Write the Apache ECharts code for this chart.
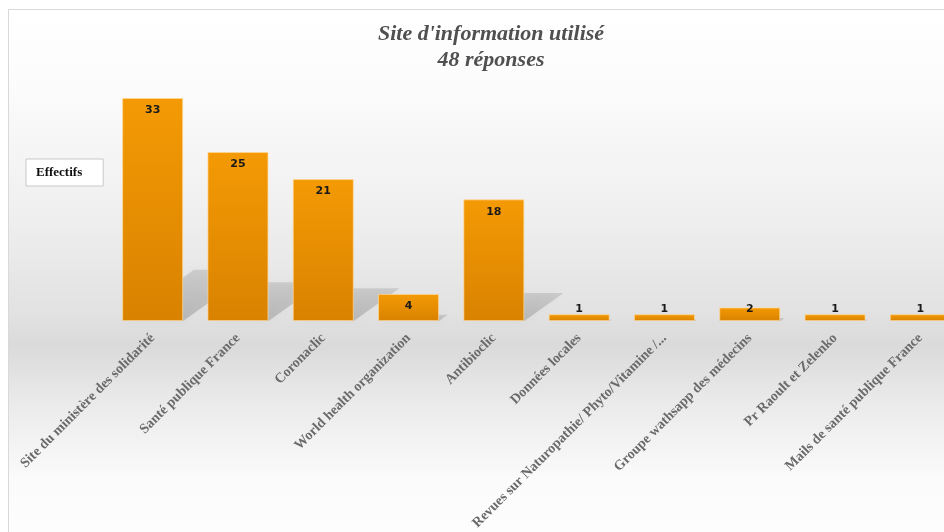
<html>
<head>
    <meta charset="utf-8">
    <title>Site d'information utilisé</title>
    <script src="https://cdn.jsdelivr.net/npm/echarts@6/dist/echarts.min.js"></script>
</head>
<body style="margin:0">
<div id="chart" style="width: 944px; height: 532px"></div>
<script>
    // catégories et effectifs
    var categories = [
        'Site du ministère des solidarité',
        'Santé publique France',
        'Coronaclic',
        'World health organization',
        'Antibioclic',
        'Données locales',
        'Revues sur Naturopathie/ Phyto/Vitamine /...',
        'Groupe wathsapp des médecins',
        'Pr Raoult et Zelenko',
        'Mails de santé publique France'
    ];
    var effectifs = [33, 25, 21, 4, 18, 1, 1, 2, 1, 1];
    var seriesName = 'Effectifs';

    // étiquettes : dans la barre pour les grandes valeurs, au-dessus pour les petites
    var barData = effectifs.map(function (v) {
        var lab = v >= 4 ? { position: 'insideTop', distance: 7 }
                : v >= 2 ? { position: 'top', distance: -7 }
                : { position: 'top', distance: 0 };
        return { value: v, label: lab };
    });

    // ombre portée en perspective derrière chaque barre
    function renderShadow(params, api) {
        var base = api.coord([api.value(0), 0]);
        var top = api.coord([api.value(0), api.value(1)]);
        var half = 30.5;
        var h = base[1] - top[1];
        var dy = h * 0.23, dx = dy * 1.4;
        var x0 = base[0] - half, x1 = base[0] + half, y0 = base[1];
        return {
            type: 'polygon',
            shape: { points: [[x0, y0], [x1, y0], [x1 + dx, y0 - dy], [x0 + dx, y0 - dy]] },
            style: {
                fill: {
                    type: 'linear', x: 0, y: 1, x2: 0, y2: 0,
                    colorStops: [
                        { offset: 0, color: 'rgba(0,0,0,0.17)' },
                        { offset: 1, color: 'rgba(0,0,0,0.11)' }
                    ]
                },
                shadowBlur: 10,
                shadowColor: 'rgba(0,0,0,0.18)'
            }
        };
    }

    var chart = echarts.init(document.getElementById('chart'));
    var option = {
        animation: false,
        graphic: {
            elements: [{
                type: 'rect',
                z: -100,
                shape: { x: 8.5, y: 9.5, width: 980, height: 560 },
                style: {
                    stroke: '#d9d9d9',
                    lineWidth: 1,
                    fill: {
                        type: 'linear', x: 0, y: 0, x2: 0, y2: 1,
                        colorStops: [
                            { offset: 0, color: '#ffffff' },
                            { offset: 0.13, color: '#fcfcfc' },
                            { offset: 0.35, color: '#f0f0f0' },
                            { offset: 0.54, color: '#e2e2e2' },
                            { offset: 0.6, color: '#dadada' },
                            { offset: 0.7, color: '#eaeaea' },
                            { offset: 0.84, color: '#fbfbfb' },
                            { offset: 1, color: '#ffffff' }
                        ]
                    }
                }
            }]
        },
        title: {
            text: "Site d'information utilisé\n48 réponses",
            left: 486,
            top: 16,
            textAlign: 'center',
            textStyle: {
                fontFamily: 'Liberation Serif',
                fontStyle: 'italic',
                fontWeight: 'bold',
                fontSize: 22,
                lineHeight: 26,
                color: '#505050'
            }
        },
        legend: {
            data: [seriesName],
            left: 26,
            top: 159,
            itemWidth: 0,
            itemHeight: 0,
            itemGap: 0,
            backgroundColor: '#ffffff',
            borderColor: '#c8c8c8',
            borderWidth: 1,
            padding: [7, 21, 7, 4],
            selectedMode: false,
            textStyle: {
                fontFamily: 'Liberation Serif',
                fontWeight: 'bold',
                fontSize: 13,
                color: '#111'
            }
        },
        grid: {
            left: 110,
            width: 853,
            top: 98,
            height: 223,
            outerBoundsMode: 'none',
            containLabel: false
        },
        xAxis: {
            type: 'category',
            data: categories,
            axisLine: { show: false },
            axisTick: { show: false },
            axisLabel: {
                interval: 0,
                rotate: 45,
                margin: 15,
                fontFamily: 'Liberation Serif',
                fontWeight: 'bold',
                fontSize: 14,
                color: '#6a6a6a'
            }
        },
        yAxis: {
            type: 'value',
            min: 0,
            max: 33,
            show: false
        },
        series: [{
            name: 'ombre',
            type: 'custom',
            z: 1,
            silent: true,
            renderItem: renderShadow,
            data: effectifs.map(function (v, i) { return [i, v]; })
        }, {
            name: seriesName,
            type: 'bar',
            z: 3,
            barWidth: 61,
            data: barData,
            itemStyle: {
                color: {
                    type: 'linear', x: 0, y: 0, x2: 0, y2: 1,
                    colorStops: [
                        { offset: 0, color: '#f49a05' },
                        { offset: 1, color: '#d98200' }
                    ]
                },
                borderColor: 'rgba(255,215,150,0.7)',
                borderWidth: 1
            },
            label: {
                show: true,
                fontFamily: 'DejaVu Sans',
                fontWeight: 'bold',
                fontSize: 11,
                color: '#1a1a1a'
            }
        }]
    };
    chart.setOption(option);
</script>
</body>
</html>
